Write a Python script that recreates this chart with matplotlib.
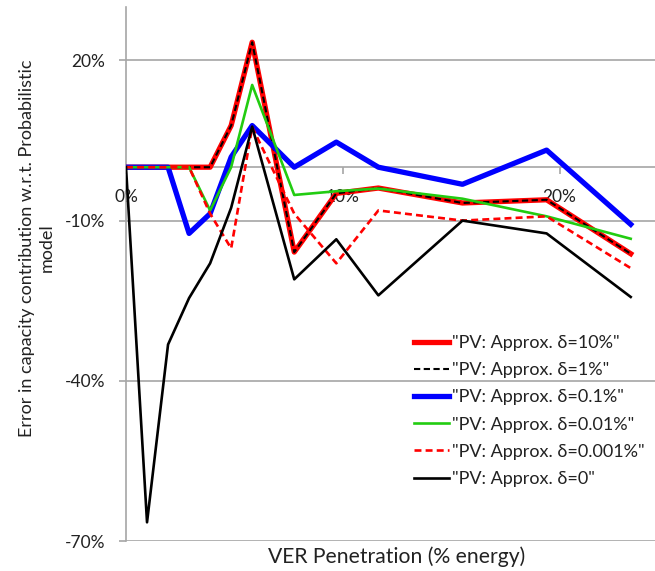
import matplotlib
matplotlib.use("Agg")
import matplotlib.pyplot as plt
from matplotlib.ticker import FuncFormatter

plt.rcParams["font.family"] = ["Lato", "DejaVu Sans"]
plt.rcParams["lines.scale_dashes"] = False

# VER penetration (% energy)
penetration = [0, 0.97, 1.94, 2.91, 3.88, 4.85, 5.82, 7.76, 9.7, 11.64, 15.52, 19.4, 23.28]

# error in capacity contribution (%) per approximation delta
err_d10 = [0, 0, 0, 0, 0, 7.8, 23.4, -15.9, -4.9, -3.9, -6.7, -6.1, -16.2]
err_d1 = [0, 0, 0, 0, 0, 7.8, 23.4, -15.9, -4.9, -3.9, -6.7, -6.1, -16.2]
err_d01 = [0, 0, 0, -12.4, -8.7, 1.9, 7.8, 0, 4.7, 0, -3.2, 3.2, -10.7]
err_d001 = [0, 0, 0, 0, -8.1, 0, 15.4, -5.2, -4.5, -4.0, -5.9, -9.2, -13.4]
err_d0001 = [0, 0, 0, 0, -8.7, -15.2, 7.5, -8.7, -18.0, -8.1, -10.0, -9.2, -18.9]
err_d0 = [0, -66.5, -33.2, -24.5, -18.0, -7.6, 7.6, -21.0, -13.5, -24.0, -10.0, -12.4, -24.3]

labels = ['"PV: Approx. δ=10%"', '"PV: Approx. δ=1%"', '"PV: Approx. δ=0.1%"',
          '"PV: Approx. δ=0.01%"', '"PV: Approx. δ=0.001%"', '"PV: Approx. δ=0"']

y_ticks = [-70, -40, -10, 20]
x_ticks = [0, 10, 20]

GRID = "#a6a6a6"
TEXT = "#222222"

fig = plt.figure(figsize=(6.55, 5.71), dpi=100)
ax = fig.add_axes([126 / 655, 1 - 541 / 571, 1 - 126 / 655, (541 - 7) / 571])

ax.plot(penetration, err_d10, color="#ff0000", lw=3.8, label=labels[0], zorder=3)
ax.plot(penetration, err_d1, color="black", lw=1.5, dashes=(4.5, 2.5), label=labels[1], zorder=4)
ax.plot(penetration, err_d01, color="#0000ff", lw=3.8, label=labels[2], zorder=5)
ax.plot(penetration, err_d001, color="#22cc11", lw=1.9, label=labels[3], zorder=6)
ax.plot(penetration, err_d0001, color="#ff0000", lw=1.9, dashes=(5, 3), label=labels[4], zorder=7)
ax.plot(penetration, err_d0, color="black", lw=1.9, label=labels[5], zorder=8)

ax.set_xlim(0, 24.4)
ax.set_ylim(-70, 30)
ax.set_yticks(y_ticks)
ax.set_xticks(x_ticks)
ax.yaxis.set_major_formatter(FuncFormatter(lambda v, p: f"{v:.0f}%"))
ax.xaxis.set_major_formatter(FuncFormatter(lambda v, p: f"{v:.0f}%"))
ax.grid(axis="y", color=GRID, lw=1.2, zorder=0)
ax.set_axisbelow(True)

ax.spines[["top", "right"]].set_visible(False)
ax.spines["left"].set_color(GRID)
ax.spines["left"].set_linewidth(1.2)
ax.spines["bottom"].set_position(("data", 0))
ax.spines["bottom"].set_color(GRID)
ax.spines["bottom"].set_linewidth(1.2)
ax.tick_params(axis="y", length=5, width=1.2, color=GRID, labelsize=12.5, pad=10,
               labelcolor=TEXT)
ax.tick_params(axis="x", length=5, width=1.2, color=GRID, labelsize=12.5, pad=11,
               labelcolor=TEXT)

fig.text(37 / 655, 1 - 248 / 571, "Error in capacity contribution w.r.t. Probabilistic\nmodel",
         rotation=90, ha="center", va="center", fontsize=13, color=TEXT,
         multialignment="center", linespacing=1.3)
fig.text(397 / 655, 1 - 557 / 571, "VER Penetration (% energy)",
         ha="center", va="center", fontsize=15.2, color=TEXT)

leg = ax.legend(loc="upper left", bbox_to_anchor=(414 / 655, 1 - 335 / 571),
                bbox_transform=fig.transFigure, frameon=False, fontsize=13,
                handlelength=1.95, handletextpad=0.15, labelspacing=0.62,
                borderaxespad=0, borderpad=0)
for t in leg.get_texts():
    t.set_color(TEXT)

fig.savefig("out.png", dpi=100, facecolor="white")
